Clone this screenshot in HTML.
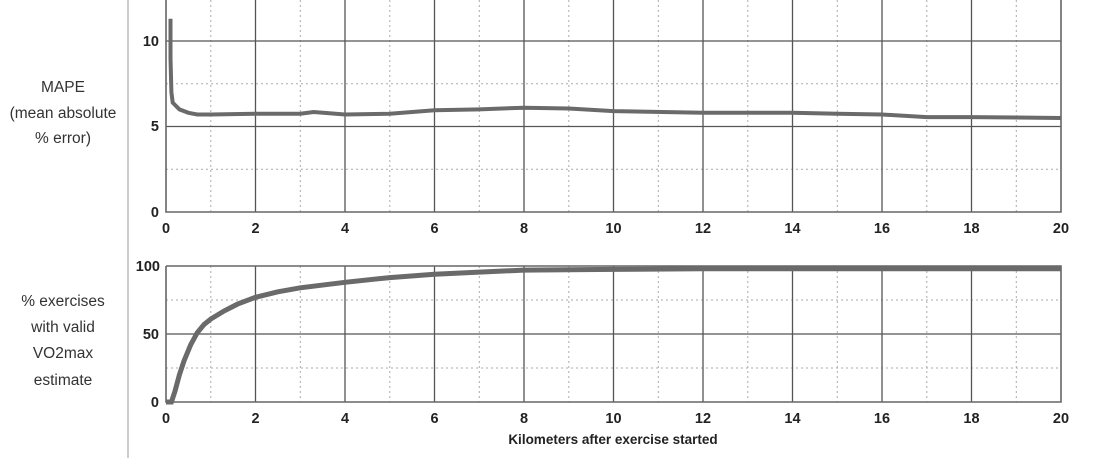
<!DOCTYPE html><html><head><style>body{margin:0;background:#fff}svg{display:block}</style></head><body>
<svg width="1094" height="476" xmlns="http://www.w3.org/2000/svg" font-family="Liberation Sans, sans-serif">
<rect width="1094" height="476" fill="#fff"/>
<line x1="128" y1="0" x2="128" y2="458" stroke="#bbb" stroke-width="1.5"/>
<g font-size="15.5" fill="#333" text-anchor="middle">
<text x="63" y="92">MAPE</text><text x="63" y="118">(mean absolute</text><text x="63" y="143">% error)</text>
<text x="63" y="306">% exercises</text><text x="63" y="332">with valid</text><text x="63" y="358">VO2max</text><text x="63" y="385">estimate</text>
</g>
<g stroke="#aaa" stroke-dasharray="2,3" stroke-width="1">
<line x1="210.8" y1="0" x2="210.8" y2="212"/><line x1="300.3" y1="0" x2="300.3" y2="212"/><line x1="389.8" y1="0" x2="389.8" y2="212"/><line x1="479.3" y1="0" x2="479.3" y2="212"/><line x1="568.8" y1="0" x2="568.8" y2="212"/><line x1="658.3" y1="0" x2="658.3" y2="212"/><line x1="747.8" y1="0" x2="747.8" y2="212"/><line x1="837.3" y1="0" x2="837.3" y2="212"/><line x1="926.8" y1="0" x2="926.8" y2="212"/><line x1="1016.3" y1="0" x2="1016.3" y2="212"/>
<line x1="166" y1="83.8" x2="1061" y2="83.8"/><line x1="166" y1="169.3" x2="1061" y2="169.3"/>
<line x1="210.8" y1="266" x2="210.8" y2="402"/><line x1="300.3" y1="266" x2="300.3" y2="402"/><line x1="389.8" y1="266" x2="389.8" y2="402"/><line x1="479.3" y1="266" x2="479.3" y2="402"/><line x1="568.8" y1="266" x2="568.8" y2="402"/><line x1="658.3" y1="266" x2="658.3" y2="402"/><line x1="747.8" y1="266" x2="747.8" y2="402"/><line x1="837.3" y1="266" x2="837.3" y2="402"/><line x1="926.8" y1="266" x2="926.8" y2="402"/><line x1="1016.3" y1="266" x2="1016.3" y2="402"/>
<line x1="166" y1="300" x2="1061" y2="300"/><line x1="166" y1="368" x2="1061" y2="368"/>
</g>
<g stroke="#555" stroke-width="1.3">
<line x1="255.5" y1="0" x2="255.5" y2="212"/><line x1="345" y1="0" x2="345" y2="212"/><line x1="434.5" y1="0" x2="434.5" y2="212"/><line x1="524" y1="0" x2="524" y2="212"/><line x1="613.5" y1="0" x2="613.5" y2="212"/><line x1="703" y1="0" x2="703" y2="212"/><line x1="792.5" y1="0" x2="792.5" y2="212"/><line x1="882" y1="0" x2="882" y2="212"/><line x1="971.5" y1="0" x2="971.5" y2="212"/>
<line x1="166" y1="41" x2="1061" y2="41"/><line x1="166" y1="126.5" x2="1061" y2="126.5"/>
<line x1="255.5" y1="266" x2="255.5" y2="402"/><line x1="345" y1="266" x2="345" y2="402"/><line x1="434.5" y1="266" x2="434.5" y2="402"/><line x1="524" y1="266" x2="524" y2="402"/><line x1="613.5" y1="266" x2="613.5" y2="402"/><line x1="703" y1="266" x2="703" y2="402"/><line x1="792.5" y1="266" x2="792.5" y2="402"/><line x1="882" y1="266" x2="882" y2="402"/><line x1="971.5" y1="266" x2="971.5" y2="402"/>
<line x1="166" y1="334" x2="1061" y2="334"/>
</g>
<g stroke="#666" stroke-width="1.6" fill="none">
<path d="M166 0V212H1061V0"/>
<path d="M166 266V402H1061V266H166"/>
</g>
<path d="M170.5 18.8L170.5 58L171.4 92.3L172.7 102.6L179.4 109.4L188.4 112.8L197.3 114.5L210.8 114.5L255.5 113.7L300.3 113.7L313.7 112L345 114.5L389.8 113.7L434.5 110.3L479.3 109.4L524 107.7L568.8 108.5L613.5 111.1L703 112.8L792.5 112.8L837.3 113.7L882 114.5L926.8 117.1L971.5 117.1L1061 118" stroke="#6a6a6a" stroke-width="4" fill="none"/>
<path d="M166 402L171.4 402L175 391.1L179.4 374.8L183.9 361.2L190.6 344.9L197.3 332.6L204 324.5L210.8 319L224.2 310.9L237.6 304.1L255.5 297.3L277.9 291.8L300.3 287.8L345 282.3L389.8 277.6L434.5 274.2L479.3 272.1L524 270.1L613.5 269.4L703 268.7L1061 268.7" stroke="#6a6a6a" stroke-width="5" fill="none"/>
<g font-size="14.5" font-weight="bold" fill="#222" text-anchor="end">
<text x="159" y="46">10</text><text x="159" y="131">5</text><text x="159" y="217">0</text>
<text x="160" y="271">100</text><text x="159" y="339">50</text><text x="159" y="407">0</text>
</g>
<g font-size="14.5" font-weight="bold" fill="#222" text-anchor="middle">
<text x="166" y="233">0</text><text x="255.5" y="233">2</text><text x="345" y="233">4</text><text x="434.5" y="233">6</text><text x="524" y="233">8</text><text x="613.5" y="233">10</text><text x="703" y="233">12</text><text x="792.5" y="233">14</text><text x="882" y="233">16</text><text x="971.5" y="233">18</text><text x="1061" y="233">20</text>
<text x="166" y="423">0</text><text x="255.5" y="423">2</text><text x="345" y="423">4</text><text x="434.5" y="423">6</text><text x="524" y="423">8</text><text x="613.5" y="423">10</text><text x="703" y="423">12</text><text x="792.5" y="423">14</text><text x="882" y="423">16</text><text x="971.5" y="423">18</text><text x="1061" y="423">20</text>
<text x="613" y="444" font-size="13.5">Kilometers after exercise started</text>
</g>
</svg>
</body></html>
